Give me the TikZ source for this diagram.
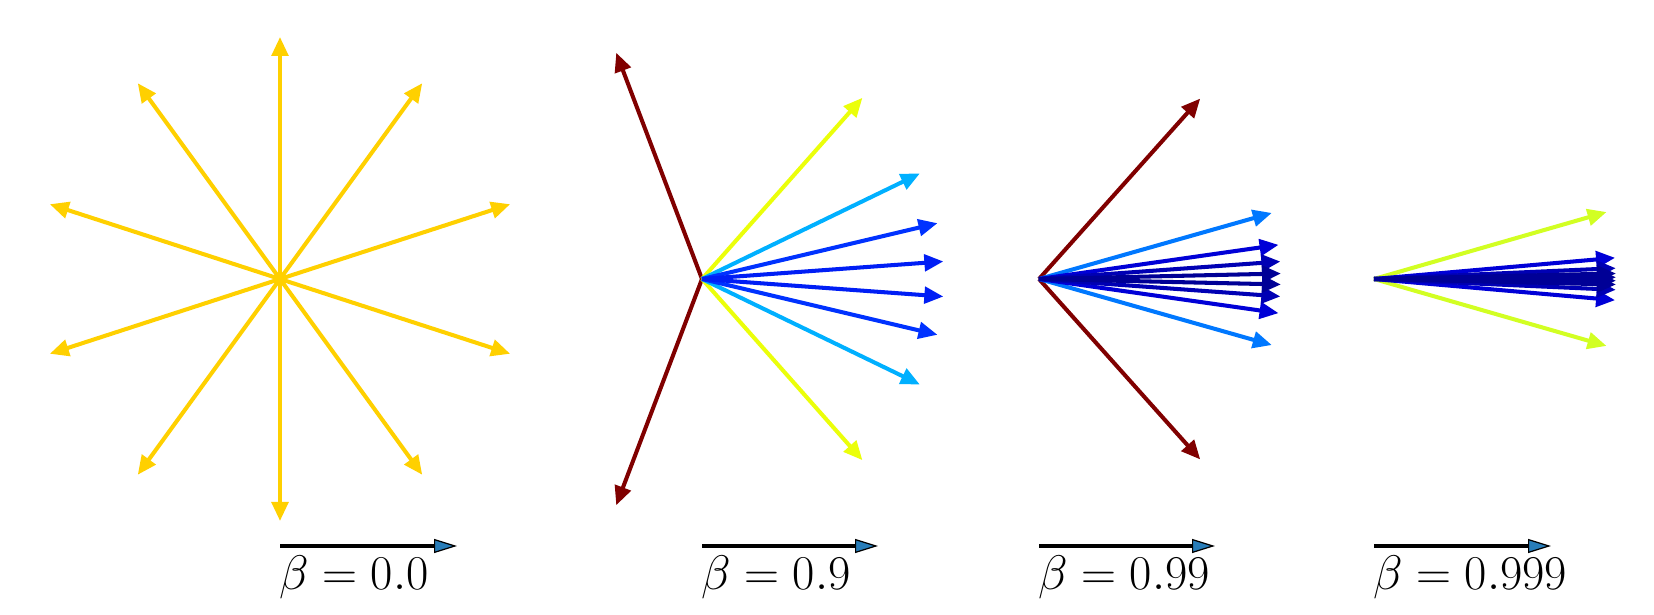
\documentclass[tikz,border=0pt]{standalone}
\usepackage{tikz}
\usetikzlibrary{arrows.meta}

\definecolor{gold}{RGB}{255,208,0}
\definecolor{darkred}{RGB}{128,0,0}
\definecolor{yel}{RGB}{235,255,10}
\definecolor{ygreen}{RGB}{210,255,35}
\definecolor{lblue}{RGB}{0,176,255}
\definecolor{mblue}{RGB}{0,120,255}
\definecolor{blueA}{RGB}{0,50,255}
\definecolor{blueB}{RGB}{0,30,245}
\definecolor{navyA}{RGB}{0,0,215}
\definecolor{navyB}{RGB}{0,0,180}
\definecolor{navyC}{RGB}{0,0,150}
\definecolor{barblue}{RGB}{40,125,185}

\begin{document}
\begin{tikzpicture}[x=0.02cm,y=0.02cm,
            ray/.style={line width=2.3pt,-{Triangle[length=3.8mm,width=3.3mm]}},
            bar/.style={line width=2.2pt,draw=black,-{Triangle[length=4.6mm,width=2.8mm,fill=barblue,line width=0.7pt]}},
            lab/.style={anchor=base west,inner sep=0,font=\fontsize{24.88}{30}\selectfont}
          ]
          \useasboundingbox (0,0) rectangle (1654,615);

          %origins
          \coordinate (o1) at (280,336);
          \coordinate (o2) at (702,336);
          \coordinate (o3) at (1039,336);
          \coordinate (o4) at (1374,336);

          %beta = 0.0
          \foreach \a/\c [count=\i] in {162/gold,126/gold,90/gold,54/gold,18/gold}{
            \path (o1) ++(\a:242) coordinate (p1u\i) (o1) ++(-\a:242) coordinate (p1d\i);
            \draw[ray,\c] (o1) -- (p1u\i);
            \draw[ray,\c] (o1) -- (p1d\i);
          }

          %beta = 0.9
          \foreach \a/\c [count=\i] in {110.76/darkred,48.48/yel,25.84/lblue,13.33/blueA,4.16/blueB}{
            \path (o2) ++(\a:242) coordinate (p2u\i) (o2) ++(-\a:242) coordinate (p2d\i);
            \draw[ray,\c] (o2) -- (p2u\i);
            \draw[ray,\c] (o2) -- (p2d\i);
          }

          %beta = 0.99
          \foreach \a/\c [count=\i] in {48.22/darkred,15.84/mblue,8.11/navyA,4.14/navyB,1.29/navyC}{
            \path (o3) ++(\a:242) coordinate (p3u\i) (o3) ++(-\a:242) coordinate (p3d\i);
            \draw[ray,\c] (o3) -- (p3u\i);
            \draw[ray,\c] (o3) -- (p3d\i);
          }

          %beta = 0.999
          \foreach \a/\c [count=\i] in {16.06/ygreen,5.02/navyA,2.56/navyB,1.31/navyC,0.41/navyC}{
            \path (o4) ++(\a:242) coordinate (p4u\i) (o4) ++(-\a:242) coordinate (p4d\i);
            \draw[ray,\c] (o4) -- (p4u\i);
            \draw[ray,\c] (o4) -- (p4d\i);
          }

          %velocity bars
          \coordinate (b1s) at (280,69);  \coordinate (b1e) at (457,69);
          \coordinate (b2s) at (702,69);  \coordinate (b2e) at (878,69);
          \coordinate (b3s) at (1039,69); \coordinate (b3e) at (1215,69);
          \coordinate (b4s) at (1374,69); \coordinate (b4e) at (1551,69);
          \draw[bar] (b1s) -- (b1e);
          \draw[bar] (b2s) -- (b2e);
          \draw[bar] (b3s) -- (b3e);
          \draw[bar] (b4s) -- (b4e);

          %labels
          \node[lab] (l1) at (279,25) {\scalebox{1.11}{$\beta = 0.0$}};
          \node[lab] (l2) at (701,25) {\scalebox{1.11}{$\beta = 0.9$}};
          \node[lab] (l3) at (1038,25) {\scalebox{1.11}{$\beta = 0.99$}};
          \node[lab] (l4) at (1373,25) {\scalebox{1.11}{$\beta = 0.999$}};
      \end{tikzpicture}
\end{document}
